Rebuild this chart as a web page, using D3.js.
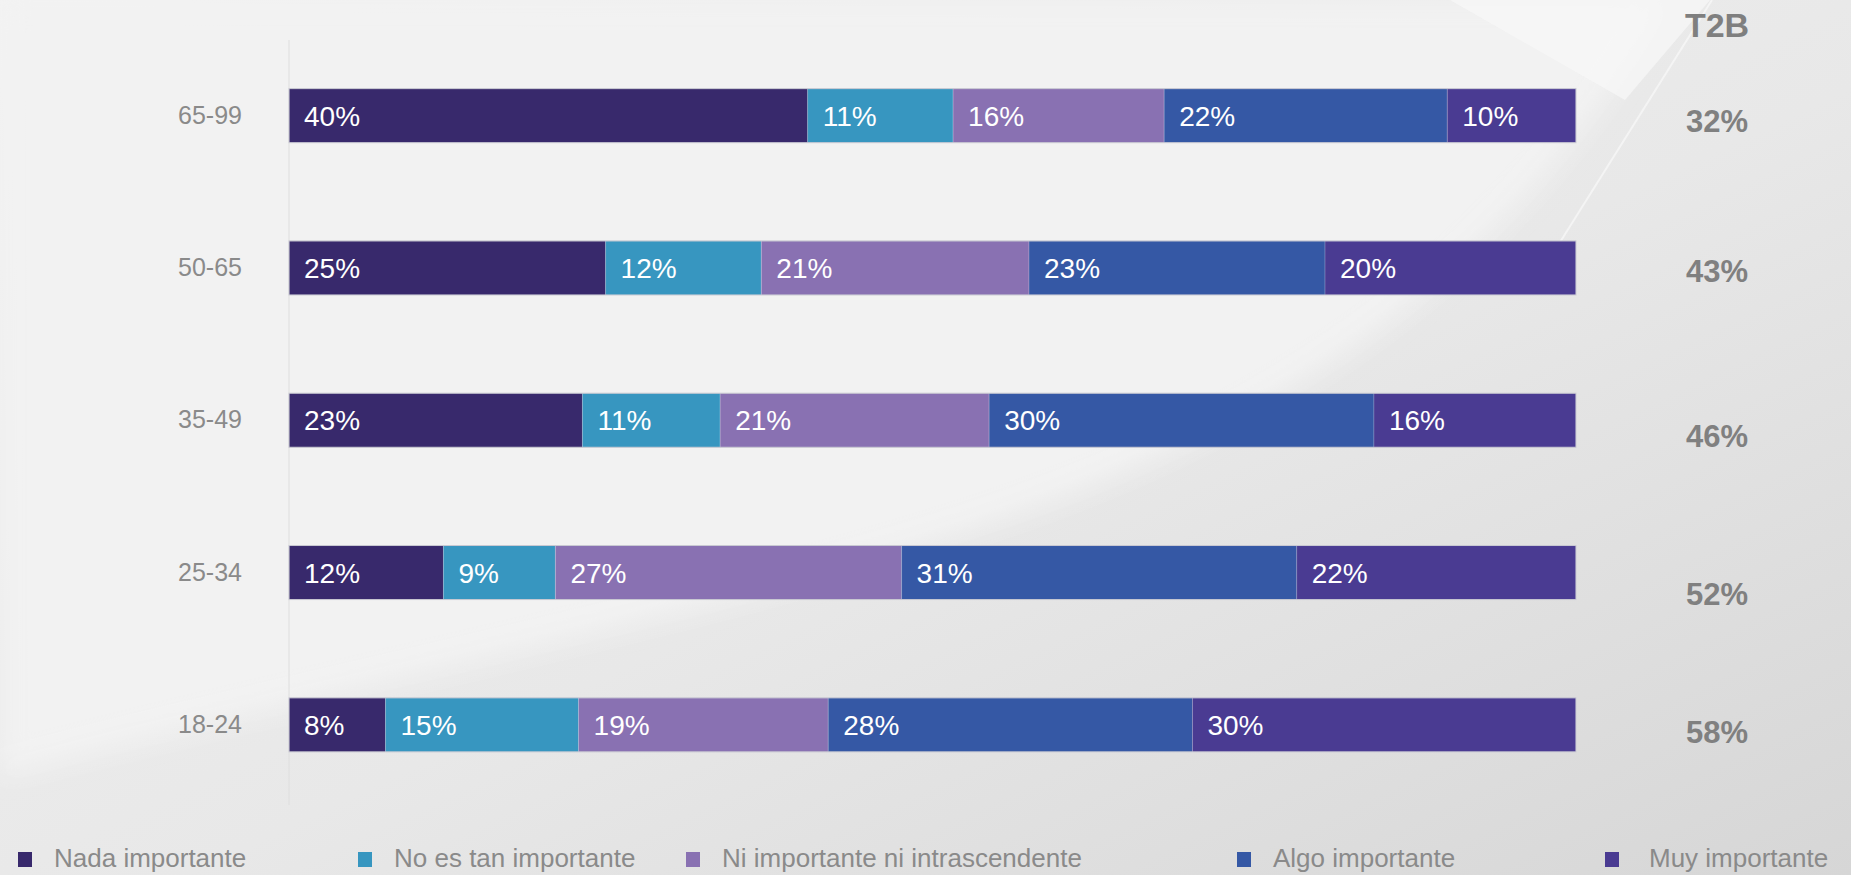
<!DOCTYPE html>
<html>
<head>
<meta charset="utf-8">
<script src="https://cdn.jsdelivr.net/npm/d3@7"></script>
<style>
  html, body { margin: 0; padding: 0; overflow: hidden; }
  body { width: 1851px; height: 875px; }
  text { font-family: "Liberation Sans", Arial, sans-serif; }
</style>
</head>
<body>
<div id="chart"></div>
<script>
const ageGroups = ["65-99", "50-65", "35-49", "25-34", "18-24"];
const seriesNames = ["Nada importante", "No es tan importante", "Ni importante ni intrascendente", "Algo importante", "Muy importante"];
const seriesColors = ["#38296c", "#3796c0", "#8971b2", "#3558a5", "#4a3b92"];

// share of answers per age group (%), left to right
const nada  = [40.3, 24.6, 22.8, 12.0, 7.5];
const noTan = [11.3, 12.1, 10.7, 8.7, 15.0];
const niNi  = [16.4, 20.8, 20.9, 26.9, 19.4];
const algo  = [22.0, 23.0, 29.9, 30.7, 28.3];
const muy   = [10.0, 19.5, 15.7, 21.7, 29.8];
const t2b   = [32, 43, 46, 52, 58];

const width = 1851, height = 875;

const rows = ageGroups.map((g, i) => ({
  group: g,
  [seriesNames[0]]: nada[i],
  [seriesNames[1]]: noTan[i],
  [seriesNames[2]]: niNi[i],
  [seriesNames[3]]: algo[i],
  [seriesNames[4]]: muy[i]
}));

const svg = d3.select("#chart").append("svg")
    .attr("width", width)
    .attr("height", height);

// background
const defs = svg.append("defs");
const bg = defs.append("linearGradient").attr("id", "bg")
    .attr("x1", "0").attr("y1", "0").attr("x2", "1").attr("y2", "1");
bg.append("stop").attr("offset", "0").attr("stop-color", "#f3f3f3");
bg.append("stop").attr("offset", "0.55").attr("stop-color", "#e8e8e8");
bg.append("stop").attr("offset", "1").attr("stop-color", "#d6d6d6");
const blur = defs.append("filter").attr("id", "soft").attr("x", "-20%").attr("y", "-20%").attr("width", "140%").attr("height", "140%");
blur.append("feGaussianBlur").attr("stdDeviation", 14);

svg.append("rect").attr("width", width).attr("height", height).attr("fill", "url(#bg)");
svg.append("path")
    .attr("d", "M0,0 L1660,0 C1520,240 1320,420 920,540 C620,630 300,690 0,770 Z")
    .attr("fill", "#f2f2f2")
    .attr("filter", "url(#soft)");
svg.append("path")
    .attr("d", "M1660,0 C1520,240 1320,420 920,540 C620,630 300,690 0,770")
    .attr("fill", "none")
    .attr("stroke", "#ffffff")
    .attr("stroke-opacity", 0.7)
    .attr("stroke-width", 6)
    .attr("filter", "url(#soft)");
svg.append("path")
    .attr("d", "M1450,0 L1710,0 L1625,100 Z")
    .attr("fill", "#f8f8f8")
    .attr("opacity", 0.7);
svg.append("path")
    .attr("d", "M1712,0 L1530,290")
    .attr("stroke", "#ffffff")
    .attr("stroke-opacity", 0.5)
    .attr("stroke-width", 2);

const x = d3.scaleLinear().domain([0, 100]).range([289, 1576]);
const y = d3.scaleBand().domain(ageGroups).range([39.5, 801])
    .paddingInner(0.645).paddingOuter(0.3225);

const stack = d3.stack().keys(seriesNames);
const layers = stack(rows);

// vertical axis line
svg.append("line")
    .attr("x1", x(0)).attr("x2", x(0))
    .attr("y1", 40).attr("y2", 805)
    .attr("stroke", "#dedede").attr("stroke-width", 1);

// category labels
const yAxis = svg.append("g")
    .attr("transform", "translate(" + x(0) + ",0)")
    .call(d3.axisLeft(y).tickSize(0).tickPadding(47));
yAxis.select(".domain").remove();
yAxis.selectAll("text")
    .style("font-family", "'Liberation Sans', Arial, sans-serif")
    .style("font-size", "25px")
    .attr("fill", "#8a8a8a");

// bars
const layerG = svg.append("g").selectAll("g")
    .data(layers)
  .enter().append("g")
    .attr("fill", (d, i) => seriesColors[i]);

layerG.selectAll("rect")
    .data(d => d)
  .enter().append("rect")
    .attr("x", d => x(d[0]))
    .attr("y", d => y(d.data.group))
    .attr("width", d => x(d[1]) - x(d[0]))
    .attr("height", y.bandwidth())
    .attr("stroke", "rgba(255,255,255,0.18)")
    .attr("stroke-width", 1);

// thin outline around each full bar
svg.append("g").selectAll("rect")
    .data(ageGroups)
  .enter().append("rect")
    .attr("x", x(0))
    .attr("y", d => y(d))
    .attr("width", x(100) - x(0))
    .attr("height", y.bandwidth())
    .attr("fill", "none")
    .attr("stroke", "#c9c9d2")
    .attr("stroke-width", 1);

layerG.selectAll("text")
    .data(d => d)
  .enter().append("text")
    .attr("x", d => x(d[0]) + 15)
    .attr("y", d => y(d.data.group) + y.bandwidth() / 2)
    .attr("dy", "0.36em")
    .attr("fill", "#ffffff")
    .style("font-size", "28px")
    .text(d => Math.round(d[1] - d[0]) + "%");

// T2B column
const t2bX = 1717;
const t2bShift = [5, 3, 16, 21, 7];
svg.append("text")
    .attr("x", t2bX)
    .attr("y", 37)
    .attr("text-anchor", "middle")
    .attr("fill", "#7f7f7f")
    .style("font-size", "34px")
    .style("font-weight", "bold")
    .text("T2B");

svg.append("g").selectAll("text")
    .data(t2b)
  .enter().append("text")
    .attr("x", t2bX)
    .attr("y", (d, i) => y(ageGroups[i]) + y.bandwidth() / 2 + t2bShift[i])
    .attr("dy", "0.36em")
    .attr("text-anchor", "middle")
    .attr("fill", "#808080")
    .style("font-size", "31px")
    .style("font-weight", "bold")
    .text(d => d + "%");

// legend
const legendX = [18, 358, 686, 1237, 1605];
const legend = svg.append("g").selectAll("g")
    .data(seriesNames)
  .enter().append("g")
    .attr("transform", (d, i) => "translate(" + legendX[i] + ",0)");

legend.append("rect")
    .attr("x", 0)
    .attr("y", 852)
    .attr("width", 14)
    .attr("height", 15)
    .attr("fill", (d, i) => seriesColors[i]);

legend.append("text")
    .attr("x", (d, i) => i === 4 ? 44 : 36)
    .attr("y", 867)
    .attr("fill", "#8a8a8a")
    .style("font-size", "26px")
    .text(d => d);
</script>
</body>
</html>
